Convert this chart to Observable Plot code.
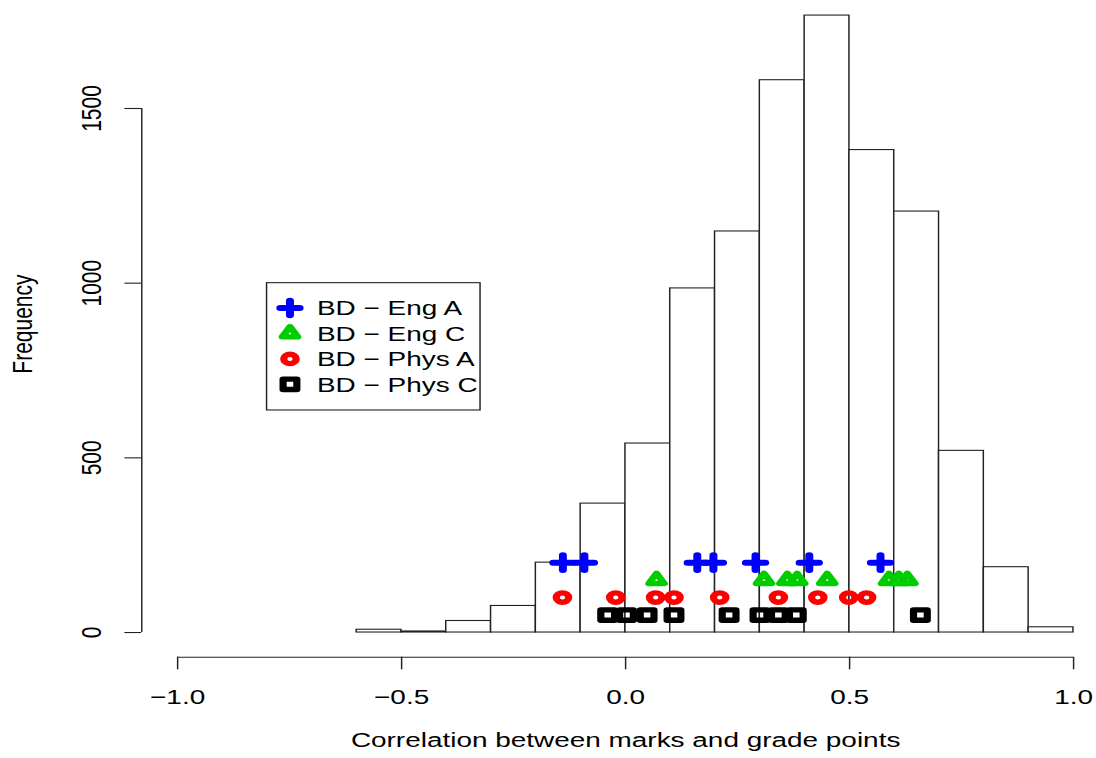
<!DOCTYPE html>
<html>
<head>
<meta charset="utf-8">
<script src="https://cdn.jsdelivr.net/npm/d3@7"></script>
<script src="https://cdn.jsdelivr.net/npm/@observablehq/plot@0.6"></script>
<style>
  html, body { margin: 0; padding: 0; background: #fff; }
  #chart { width: 1096px; height: 758px; overflow: hidden; }
</style>
</head>
<body>
<div id="chart"></div>
<script>
// ---------- data ----------
const binEdges  = [-0.6, -0.5, -0.4, -0.3, -0.2, -0.1, 0.0, 0.1, 0.2, 0.3, 0.4, 0.5, 0.6, 0.7, 0.8, 0.9, 1.0];
const binCounts = [8, 3, 33, 76, 200, 369, 541, 985, 1148, 1581, 1766, 1381, 1205, 520, 187, 15];

const seriesNames  = ["BD − Eng A", "BD − Eng C", "BD − Phys A", "BD − Phys C"];
const seriesLevels = [200, 150, 100, 50];
const engA  = [-0.14, -0.092, 0.16, 0.196, 0.29, 0.41, 0.569];
const engC  = [0.069, 0.309, 0.361, 0.383, 0.45, 0.588, 0.61, 0.629];
const physA = [-0.141, -0.022, 0.067, 0.108, 0.21, 0.341, 0.429, 0.498, 0.538];
const physC = [-0.04, 0.002, 0.048, 0.108, 0.231, 0.30, 0.341, 0.381, 0.658];

const xTicks = [-1.0, -0.5, 0.0, 0.5, 1.0];
const yTicks = [0, 500, 1000, 1500];
const xLim = [-1.08, 1.08];
const yLim = [-70.64, 1836.64];
const legendAt = [-0.8, 1000];
const xTitle = "Correlation between marks and grade points";
const yTitle = "Frequency";

// ---------- styles ----------
const W = 1096, H = 758;
const stretch = 1.3301;            // reference is horizontally stretched
const W0 = Math.round(W / stretch); // drawing width before stretch
const FONT = 21;
const symR = 4.7;

const sym = {
  circle:   {draw(c, s) { const r = Math.sqrt(s / Math.PI); c.moveTo(r, 0); c.arc(0, 0, r, 0, 2 * Math.PI); c.closePath(); }},
  square:   {draw(c, s) { const r = Math.sqrt(s / Math.PI) * 1.1; c.moveTo(-r, -r); c.lineTo(r, -r); c.lineTo(r, r); c.lineTo(-r, r); c.closePath(); }},
  triangle: {draw(c, s) { const r = Math.sqrt(s / Math.PI); const h = 0.72 * r; c.moveTo(0, -2 * h); c.lineTo(1.24 * r, h); c.lineTo(-1.24 * r, h); c.closePath(); }},
  plus:     {draw(c, s) { const a = Math.sqrt(s / Math.PI) * 1.55; c.moveTo(-a, 0); c.lineTo(a, 0); c.moveTo(0, -a); c.lineTo(0, a); }}
};
const seriesStyle = [
  {color: "#0000ff", symbol: sym.plus,     width: 6},
  {color: "#00cd00", symbol: sym.triangle, width: 5.4},
  {color: "#ff0000", symbol: sym.circle,   width: 5.4},
  {color: "#000000", symbol: sym.square,   width: 5.4}
];
const seriesValues = [engA, engC, physA, physC];

// ---------- build tables ----------
const bars = binCounts.map((c, i) => ({x1: binEdges[i], x2: binEdges[i + 1], count: c}));
const series = seriesNames.map((name, i) => ({
  name, level: seriesLevels[i], ...seriesStyle[i],
  points: seriesValues[i].map(v => ({x: v, y: seriesLevels[i]}))
}));

// plot region matches R's (4% extended) user coordinates
const marginLeft = 106.1, marginRight = W0 - 833.6, marginTop = -9.6, marginBottom = H - 656.7;

const plot = Plot.plot({
  width: W0,
  height: H,
  marginLeft, marginRight, marginTop, marginBottom,
  style: {fontFamily: "'Liberation Sans', Arial, Helvetica, sans-serif", fontSize: FONT + "px", color: "#000", background: "#fff", overflow: "visible"},
  x: {domain: xLim, label: null},
  y: {domain: yLim, label: null},
  marks: [
    Plot.rectY(bars, {x1: "x1", x2: "x2", y: "count", fill: "white", stroke: "#222", strokeWidth: 1.1}),
    ...series.map(s => Plot.dot(s.points, {
      x: "x", y: "y", r: symR, symbol: s.symbol, fill: "none", stroke: s.color,
      strokeWidth: s.width, strokeLinejoin: "round", strokeLinecap: "round"
    })),
    // axes
    Plot.ruleX([xLim[0]], {y1: yTicks[0], y2: yTicks[yTicks.length - 1], stroke: "#222", strokeWidth: 1.1}),
    Plot.ruleY([yLim[0]], {x1: xTicks[0], x2: xTicks[xTicks.length - 1], stroke: "#222", strokeWidth: 1.1}),
    Plot.axisY({ticks: yTicks, tickSize: 12.6, tickPadding: 18.3, tickRotate: -90, tickFormat: d3.format("d"), label: null, stroke: "#222", strokeWidth: 1.1, fontSize: FONT}),
    Plot.axisX({ticks: xTicks, tickSize: 12.6, tickPadding: 19, tickFormat: d3.format(".1f"), label: null, stroke: "#222", strokeWidth: 1.1, fontSize: FONT}),
    Plot.text([yTitle], {text: d => d, frameAnchor: "left", textAnchor: "middle", dx: 16.5 - marginLeft, rotate: -90, fontSize: FONT}),
    Plot.text([xTitle], {text: d => d, frameAnchor: "bottom", textAnchor: "middle", dy: 746 - 656.7, fontSize: FONT})
  ]
});

// ---------- legend (placed at R user coordinates) ----------
const xs = plot.scale("x"), ys = plot.scale("y");
const lx = xs.apply(legendAt[0]), ly = ys.apply(legendAt[1]);
const lg = d3.select(plot).append("g").attr("font-size", FONT).attr("fill", "#000").attr("text-anchor", "start");
lg.append("rect").attr("x", lx).attr("y", ly).attr("width", 160.5).attr("height", 127.3)
  .attr("fill", "white").attr("stroke", "#222").attr("stroke-width", 1.1);
series.forEach((s, i) => {
  const cy = ly + 25.4 * (i + 1);
  lg.append("path")
    .attr("transform", `translate(${lx + 17.6},${cy})`)
    .attr("d", d3.symbol(s.symbol, Math.PI * symR * symR)())
    .attr("fill", "none").attr("stroke", s.color).attr("stroke-width", s.width)
    .attr("stroke-linejoin", "round").attr("stroke-linecap", "round");
  lg.append("text").attr("x", lx + 37.9).attr("y", cy).attr("dy", "0.35em")
    .attr("text-anchor", "start").text(s.name);
});

// stretch horizontally like the reference
plot.setAttribute("width", W);
plot.setAttribute("height", H);
plot.setAttribute("preserveAspectRatio", "none");
plot.style.width = W + "px";
plot.style.height = H + "px";
plot.style.maxWidth = "none";
document.getElementById("chart").appendChild(plot);
</script>
</body>
</html>
